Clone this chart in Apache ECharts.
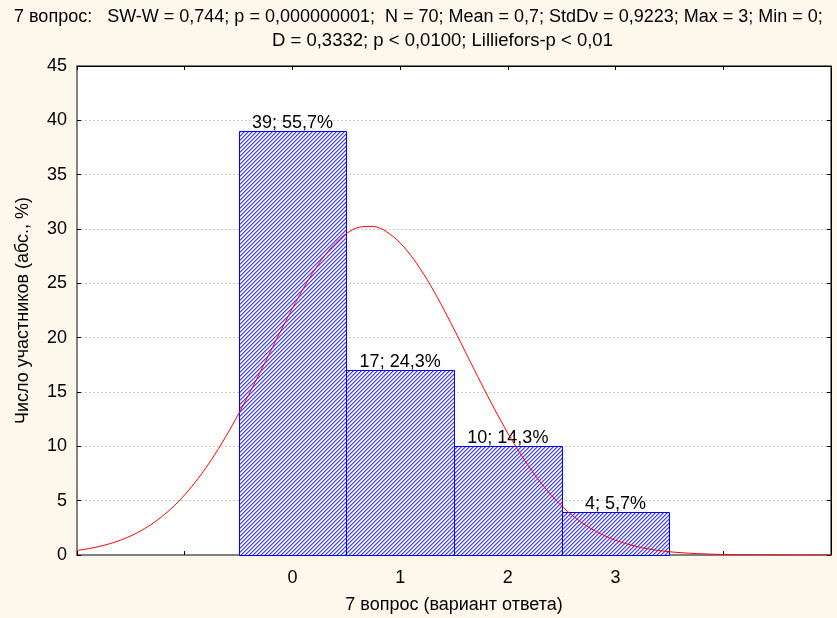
<!DOCTYPE html>
<html>
<head>
<meta charset="utf-8">
<script src="https://cdn.jsdelivr.net/npm/echarts@6/dist/echarts.min.js"></script>
<style>
html,body{margin:0;padding:0;background:#fdf8ec;}
#main{width:837px;height:618px;}
</style>
</head>
<body>
<div id="main"></div>
<script>
// ---- data ----
var categories = [0, 1, 2, 3];
var counts = [39, 17, 10, 4];
var percents = ['55,7', '24,3', '14,3', '5,7'];
var curveX = [-2, -1.875, -1.75, -1.625, -1.5, -1.375, -1.25, -1.125, -1, -0.875, -0.75, -0.625, -0.5, -0.375, -0.25, -0.125,
              0, 0.125, 0.25, 0.375, 0.5, 0.625, 0.75, 0.875, 1, 1.125, 1.25, 1.375, 1.5, 1.625, 1.75, 1.875,
              2, 2.125, 2.25, 2.375, 2.5, 2.625, 2.75, 2.875, 3, 3.125, 3.25, 3.375, 3.5, 3.625, 3.75, 3.875, 4, 4.25, 4.5, 5];
var curveY = [0.42, 0.61, 0.89, 1.26, 1.76, 2.41, 3.24, 4.27, 5.54, 7.05, 8.8, 10.79, 12.98, 15.35, 17.81, 20.3,
              22.7, 24.93, 26.88, 28.46, 29.58, 30.18, 30.24, 29.74, 28.72, 27.23, 25.35, 23.17, 20.79, 18.31, 15.84, 13.45,
              11.21, 9.18, 7.38, 5.82, 4.51, 3.43, 2.56, 1.88, 1.35, 0.96, 0.66, 0.45, 0.3, 0.2, 0.13, 0.08, 0.05, 0.02, 0.01, 0];
var xTickLabels = ['0', '1', '2', '3'];
var titleLine1 = '7 вопрос:   SW-W = 0,744; p = 0,000000001;  N = 70; Mean = 0,7; StdDv = 0,9223; Max = 3; Min = 0;';
var titleLine2 = 'D = 0,3332; p < 0,0100; Lilliefors-p < 0,01';
var xName = '7 вопрос (вариант ответа)';
var yName = 'Число участников (абс., %)';

// hatch pattern
var pc = document.createElement('canvas');
pc.width = 4; pc.height = 4;
var pctx = pc.getContext('2d');
pctx.fillStyle = '#ffffff';
pctx.fillRect(0, 0, 4, 4);
for (var i = 0; i < 4; i++) {
  pctx.fillStyle = '#4848ff';
  pctx.fillRect(3 - i, i, 1, 1);
  pctx.fillStyle = '#9898ff';
  pctx.fillRect((3 - i + 1) % 4, i, 1, 1);
  pctx.fillStyle = '#d8d8ff';
  pctx.fillRect((3 - i + 3) % 4, i, 1, 1);
}

var barData = categories.map(function (c, i) { return [c, counts[i], percents[i]]; });
var curveData = curveX.map(function (x, i) { return [x, curveY[i]]; });

var font = 'Liberation Sans, Arial, sans-serif';
var chart = echarts.init(document.getElementById('main'));
chart.setOption({
  backgroundColor: '#fdf8ec',
  animation: false,
  graphic: [{
    type: 'text', left: 14, top: 8,
    style: { text: titleLine1, fontFamily: font, fontSize: 18, fill: '#000' }
  }, {
    type: 'text', left: 272, top: 31,
    style: { text: titleLine2, fontFamily: font, fontSize: 18.5, fill: '#000' }
  }],
  grid: { left: 77, right: 6, top: 66, bottom: 63, containLabel: false, outerBoundsMode: 'none',
          show: true, backgroundColor: '#ffffff', borderColor: '#000', borderWidth: 1 },
  xAxis: [{
    type: 'value', min: -2, max: 5, interval: 1,
    name: xName, nameLocation: 'middle', nameGap: 41,
    nameTextStyle: { fontFamily: font, fontSize: 18, color: '#000' },
    axisLine: { show: true, onZero: false, lineStyle: { color: '#808080', width: 2 } },
    axisTick: { show: true, inside: true, length: 4, lineStyle: { color: '#000' } },
    axisLabel: {
      fontFamily: font, fontSize: 18, color: '#000', margin: 14,
      formatter: function (v) { var k = xTickLabels.indexOf(String(v)); return k >= 0 ? xTickLabels[k] : ''; }
    },
    splitLine: { show: false }
  }, {
    type: 'value', min: -2, max: 5, interval: 1, position: 'top',
    axisLine: { show: true, onZero: false, lineStyle: { color: '#000', width: 1 } },
    axisTick: { show: true, inside: true, length: 4, lineStyle: { color: '#000' } },
    axisLabel: { show: false }, splitLine: { show: false }
  }],
  yAxis: [{
    type: 'value', min: 0, max: 45, interval: 5,
    name: yName, nameLocation: 'middle', nameGap: 45, nameRotate: 90,
    nameTextStyle: { fontFamily: font, fontSize: 18, color: '#000' },
    axisLine: { show: true, onZero: false, lineStyle: { color: '#808080', width: 2 } },
    axisTick: { show: true, inside: true, length: 4, lineStyle: { color: '#000' } },
    axisLabel: { fontFamily: font, fontSize: 18, color: '#000', margin: 10 },
    splitLine: { show: true, lineStyle: { color: '#cccccc', type: [2, 2], width: 1 } }
  }, {
    type: 'value', min: 0, max: 45, interval: 5, position: 'right',
    axisLine: { show: true, onZero: false, lineStyle: { color: '#000', width: 1 } },
    axisTick: { show: true, inside: true, length: 4, lineStyle: { color: '#000' } },
    axisLabel: { show: false }, splitLine: { show: false }
  }],
  series: [{
    type: 'custom',
    xAxisIndex: 0, yAxisIndex: 0,
    data: barData,
    z: 2,
    renderItem: function (params, api) {
      var x = api.value(0), y = api.value(1);
      var tl = api.coord([x - 0.5, y]);
      var br = api.coord([x + 0.5, 0]);
      var top = api.coord([x, y]);
      return {
        type: 'group',
        children: [{
          type: 'rect',
          shape: { x: Math.round(tl[0]) + 0.5, y: Math.round(tl[1]) + 0.5, width: Math.round(br[0]) - Math.round(tl[0]), height: Math.round(br[1]) - Math.round(tl[1]) },
          style: { fill: { image: pc, repeat: 'repeat' }, stroke: '#0000ff', lineWidth: 1 }
        }, {
          type: 'text',
          x: top[0], y: top[1] + 1,
          style: {
            text: y + '; ' + api.value(2) + '%',
            fontFamily: font, fontSize: 18, fill: '#000',
            align: 'center', verticalAlign: 'bottom'
          }
        }]
      };
    }
  }, {
    type: 'line',
    xAxisIndex: 0, yAxisIndex: 0,
    data: curveData,
    smooth: 0.3,
    showSymbol: false,
    z: 3,
    lineStyle: { color: '#ff0000', width: 1 }
  }]
});
</script>
</body>
</html>
